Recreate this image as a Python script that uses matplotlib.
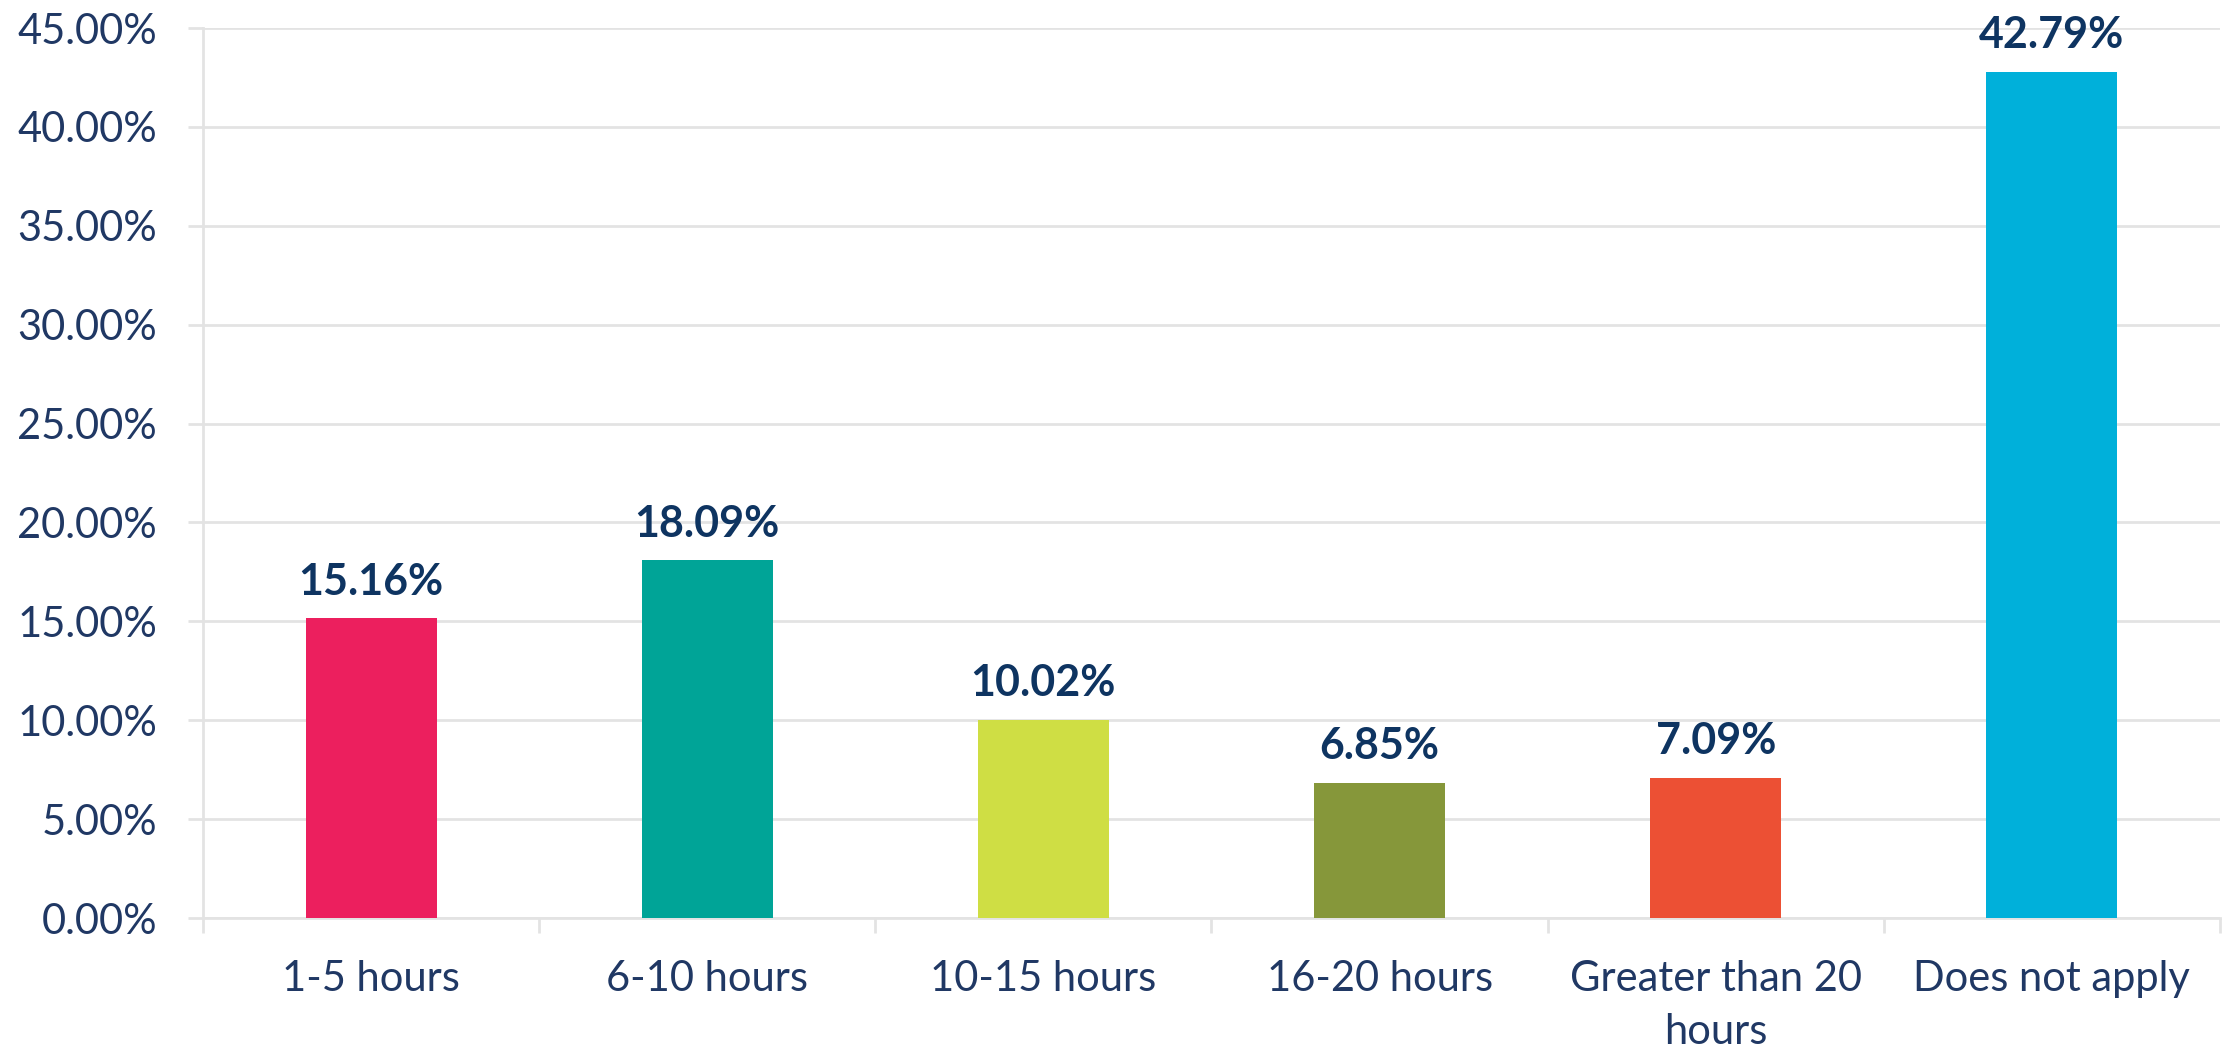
import matplotlib
matplotlib.use("Agg")
import matplotlib.pyplot as plt
from matplotlib.ticker import FuncFormatter, FixedLocator

categories = ["1-5 hours", "6-10 hours", "10-15 hours", "16-20 hours",
              "Greater than 20\nhours", "Does not apply"]
values = [15.16, 18.09, 10.02, 6.85, 7.09, 42.79]
colors = ["#EC1F5E", "#00A497", "#CFDE44", "#86973A", "#EC5034", "#00B0DA"]
yticks = [0, 5, 10, 15, 20, 25, 30, 35, 40, 45]

plt.rcParams['font.family'] = ['Lato', 'DejaVu Sans']
tick_color = "#203864"
label_color = "#0E3461"
grid_color = "#E3E3E3"

fig = plt.figure(figsize=(22.28, 10.59), dpi=100)
ax = fig.add_axes([203/2228, 1 - 918/1059, (2220-203)/2228, (918-28)/1059])

x = list(range(len(categories)))
bars = ax.bar(x, values, width=0.39, color=colors, zorder=3)

for xi, v in zip(x, values):
    ax.annotate(f"{v:.2f}%", xy=(xi, v), xytext=(0, 17), textcoords="offset points",
                ha="center", va="baseline", fontsize=31, fontweight="bold",
                color=label_color)

ax.set_xlim(-0.5, len(categories) - 0.5)
ax.set_ylim(0, 45)
ax.set_yticks(yticks)
ax.yaxis.set_major_formatter(FuncFormatter(lambda v, p: f"{v:.2f}%"))
ax.grid(axis="y", color=grid_color, linewidth=2, zorder=0)

ax.set_xticks(x)
ax.set_xticklabels(categories, fontsize=30, color=tick_color, linespacing=1.5)
ax.xaxis.set_minor_locator(FixedLocator([i - 0.5 for i in range(len(categories) + 1)]))
ax.tick_params(axis="x", which="major", length=0, pad=30)
ax.tick_params(axis="x", which="minor", length=11, width=2, color=grid_color)
ax.tick_params(axis="y", length=11, width=2, color=grid_color, labelsize=30,
               labelcolor=tick_color, pad=22)

for s in ["top", "right"]:
    ax.spines[s].set_visible(False)
for s in ["left", "bottom"]:
    ax.spines[s].set_color(grid_color)
    ax.spines[s].set_linewidth(2)

fig.savefig("out.png", dpi=100)
